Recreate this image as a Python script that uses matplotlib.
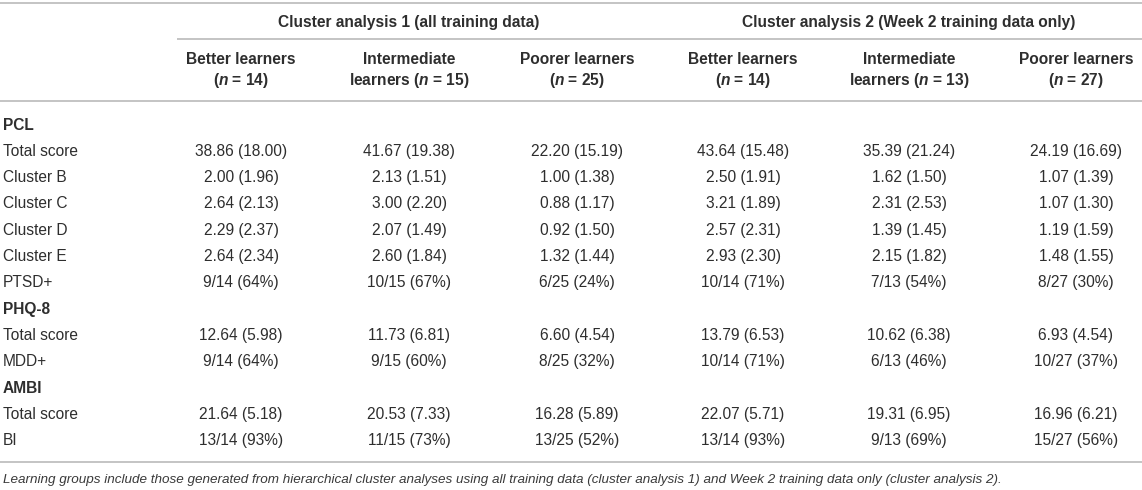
import matplotlib
matplotlib.use("Agg")
import matplotlib.pyplot as plt

plt.rcParams['font.family'] = ['Liberation Sans', 'DejaVu Sans']
plt.rcParams['mathtext.fontset'] = 'custom'
plt.rcParams['mathtext.it'] = 'Liberation Sans:italic:bold'
plt.rcParams['mathtext.rm'] = 'Liberation Sans:bold'

# ---- data ----
group_titles = ["Cluster analysis 1 (all training data)",
                "Cluster analysis 2 (Week 2 training data only)"]
col_line1 = ["Better learners", "Intermediate", "Poorer learners",
             "Better learners", "Intermediate", "Poorer learners"]
col_line2 = ["($n$ = 14)", "learners ($n$ = 15)", "($n$ = 25)",
             "($n$ = 14)", "learners ($n$ = 13)", "($n$ = 27)"]

sections = ["PCL", "PHQ-8", "AMBI"]
section_rows = [
    ["Total score", "Cluster B", "Cluster C", "Cluster D", "Cluster E", "PTSD+"],
    ["Total score", "MDD+"],
    ["Total score", "BI"],
]

better1 = ["38.86 (18.00)", "2.00 (1.96)", "2.64 (2.13)", "2.29 (2.37)", "2.64 (2.34)", "9/14 (64%)",
           "12.64 (5.98)", "9/14 (64%)", "21.64 (5.18)", "13/14 (93%)"]
inter1 = ["41.67 (19.38)", "2.13 (1.51)", "3.00 (2.20)", "2.07 (1.49)", "2.60 (1.84)", "10/15 (67%)",
          "11.73 (6.81)", "9/15 (60%)", "20.53 (7.33)", "11/15 (73%)"]
poorer1 = ["22.20 (15.19)", "1.00 (1.38)", "0.88 (1.17)", "0.92 (1.50)", "1.32 (1.44)", "6/25 (24%)",
           "6.60 (4.54)", "8/25 (32%)", "16.28 (5.89)", "13/25 (52%)"]
better2 = ["43.64 (15.48)", "2.50 (1.91)", "3.21 (1.89)", "2.57 (2.31)", "2.93 (2.30)", "10/14 (71%)",
           "13.79 (6.53)", "10/14 (71%)", "22.07 (5.71)", "13/14 (93%)"]
inter2 = ["35.39 (21.24)", "1.62 (1.50)", "2.31 (2.53)", "1.39 (1.45)", "2.15 (1.82)", "7/13 (54%)",
          "10.62 (6.38)", "6/13 (46%)", "19.31 (6.95)", "9/13 (69%)"]
poorer2 = ["24.19 (16.69)", "1.07 (1.39)", "1.07 (1.30)", "1.19 (1.59)", "1.48 (1.55)", "8/27 (30%)",
           "6.93 (4.54)", "10/27 (37%)", "16.96 (6.21)", "15/27 (56%)"]
columns = [better1, inter1, poorer1, better2, inter2, poorer2]

footnote = ("Learning groups include those generated from hierarchical cluster analyses using all "
            "training data (cluster analysis 1) and Week 2 training data only (cluster analysis 2).")

# ---- layout ----
W, H = 1142, 490
fig = plt.figure(figsize=(W / 100, H / 100), dpi=100)
ax = fig.add_axes([0, 0, 1, 1])
ax.set_xlim(0, W)
ax.set_ylim(H, 0)
ax.axis('off')

txt = '#2e2e2e'
line_c = '#c4c4c4'
fs = 11.2

col_x = [241, 409, 577, 743, 909, 1076]
group_x = [409, 909]
label_x = 3

def hline(y, x0=0, x1=W):
    ax.plot([x0, x1], [y, y], color=line_c, lw=1.4, solid_capstyle='butt')

hline(3)
hline(39.5, 177, W)
hline(101.5)
hline(461.5)

for gx, gt in zip(group_x, group_titles):
    ax.text(gx, 22, gt, ha='center', va='center', fontsize=fs, fontweight='bold', color=txt)

for cx, l1, l2 in zip(col_x, col_line1, col_line2):
    ax.text(cx, 59, l1, ha='center', va='center', fontsize=fs, fontweight='bold', color=txt)
    ax.text(cx, 81, l2, ha='center', va='center', fontsize=fs, fontweight='bold', color=txt)

y = 125
step = 26.3
k = 0
for sec, rows in zip(sections, section_rows):
    ax.text(label_x, y, sec, ha='left', va='center', fontsize=fs, fontweight='bold', color=txt)
    y += step
    for r in rows:
        ax.text(label_x, y, r, ha='left', va='center', fontsize=fs, color=txt)
        for cx, col in zip(col_x, columns):
            ax.text(cx, y, col[k], ha='center', va='center', fontsize=fs, color=txt)
        k += 1
        y += step

ax.text(label_x, 480, footnote, ha='left', va='center', fontsize=9.7, style='italic', color='#3a3a3a')

fig.savefig("out.png", dpi=100, facecolor='white')
